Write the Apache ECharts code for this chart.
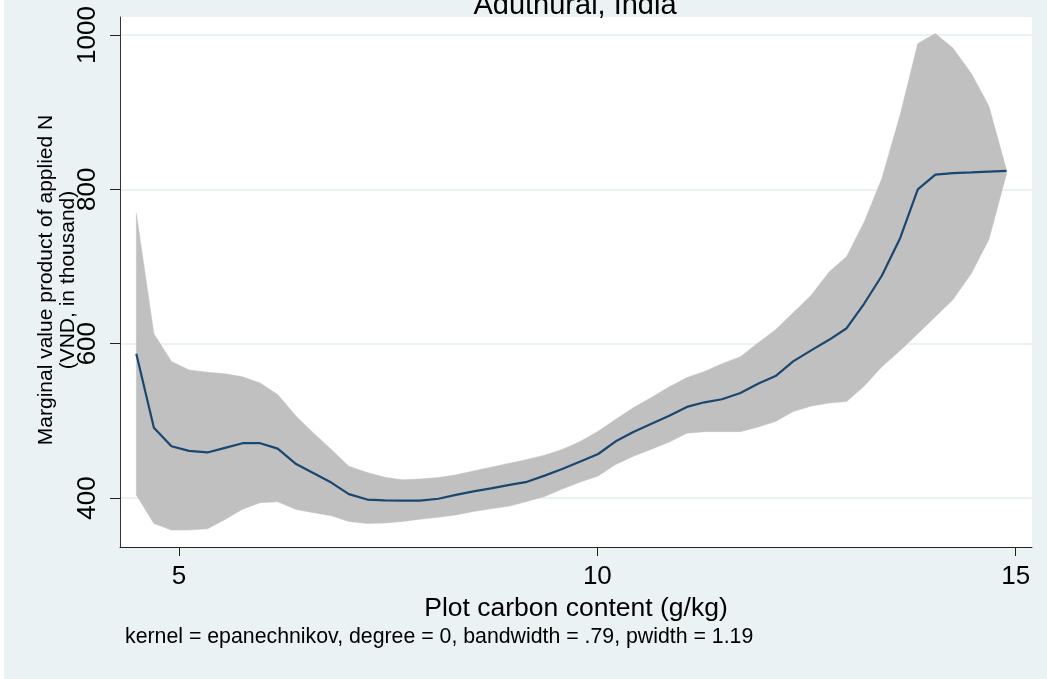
<!DOCTYPE html>
<html>
<head>
<meta charset="utf-8">
<script src="https://cdn.jsdelivr.net/npm/echarts@6/dist/echarts.min.js"></script>
<style>
  html, body { margin: 0; padding: 0; background: #ffffff; }
  #chart { width: 1047px; height: 679px; }
</style>
</head>
<body>
<div id="chart"></div>
<script>
// Local polynomial smooth of marginal value product vs. plot carbon content (50-point grid)
const carbon = [4.49, 4.70, 4.91, 5.12, 5.34, 5.55, 5.76, 5.97, 6.18, 6.40,
                6.61, 6.82, 7.03, 7.25, 7.46, 7.67, 7.88, 8.10, 8.31, 8.52,
                8.73, 8.95, 9.16, 9.37, 9.58, 9.79, 10.01, 10.22, 10.43, 10.64,
                10.86, 11.07, 11.28, 11.49, 11.71, 11.92, 12.13, 12.34, 12.55, 12.77,
                12.98, 13.19, 13.40, 13.62, 13.83, 14.04, 14.25, 14.47, 14.68, 14.89];

const mvpFit = [587, 491, 467, 461, 459, 465, 471, 471, 464, 444,
                432, 420, 405, 398, 397, 396.5, 396.5, 399, 404, 408.5,
                412.5, 417, 421, 429, 437.5, 447, 457, 473.5, 485.5, 496,
                506.5, 518, 524, 528, 536, 548, 558, 577, 591, 605,
                620, 652, 688, 737, 800, 819, 821, 822, 823, 824];

const ciLower = [404, 367, 358.5, 358.5, 360, 372, 385.5, 394, 395, 385,
                 381, 377, 369.5, 367, 367.5, 369.5, 372.5, 375, 378, 382.5,
                 386, 389.5, 395.5, 402, 411.5, 420.5, 428.5, 443.5, 454, 463,
                 472.5, 484, 486, 486, 486, 492, 499, 512, 519, 523,
                 525, 545, 570, 591, 613, 635, 657, 691, 735, 820];

const ciUpper = [769, 613, 577, 566, 563, 561, 557, 549, 534, 506,
                 484, 463, 441, 433, 427, 423.5, 424.5, 426.5, 430, 435,
                 440, 445, 450, 455.5, 463, 473, 486.5, 502, 517, 530,
                 544, 556, 564, 574, 583, 601, 618, 640, 662, 693,
                 713, 758, 814, 897, 989, 1002, 983, 950, 908, 825];

const xTicks = [5, 10, 15];
const yTicks = [400, 600, 800, 1000];

const titleText = 'Aduthurai, India';
const xTitle = 'Plot carbon content (g/kg)';
const yTitle = 'Marginal value product of applied N\n(VND, in thousand)';
const noteText = 'kernel = epanechnikov, degree = 0, bandwidth = .79, pwidth = 1.19';

const FONT = '"Liberation Sans", Arial, Helvetica, sans-serif';
const NAVY = '#1A476F';
const BAND = '#C0C0C0';
const BG = '#EAF2F3';

const bandData = carbon.map((x, i) => [x, ciLower[i], ciUpper[i]]);
const fitData = carbon.map((x, i) => [x, mvpFit[i]]);

const chart = echarts.init(document.getElementById('chart'), null, { renderer: 'canvas' });

// Confidence band drawn as a single polygon: upper edge forward, lower edge back
function renderBand(params, api) {
  if (params.dataIndex !== 0) return null;
  const pts = [];
  for (let i = 0; i < carbon.length; i++) pts.push(api.coord([carbon[i], ciUpper[i]]));
  for (let i = carbon.length - 1; i >= 0; i--) pts.push(api.coord([carbon[i], ciLower[i]]));
  return {
    type: 'polygon',
    shape: { points: pts },
    style: { fill: BAND, stroke: BAND, lineWidth: 0.5 }
  };
}

const option = {
  backgroundColor: BG,
  animation: false,
  grid: {
    left: 120, top: 17, width: 912, height: 530,
    show: true, backgroundColor: '#ffffff', borderWidth: 0
  },
  xAxis: {
    type: 'value',
    min: 4.295, max: 15.195,
    axisLine: { show: true, onZero: false, lineStyle: { color: '#222', width: 1 } },
    axisTick: { show: true, length: 9, customValues: xTicks, lineStyle: { color: '#222' } },
    axisLabel: { customValues: xTicks, fontSize: 26, color: '#000', margin: 17, fontFamily: FONT,
                 formatter: v => String(v) },
    splitLine: { show: false },
    name: xTitle,
    nameLocation: 'middle',
    nameGap: 43,
    nameTextStyle: { fontSize: 26.5, color: '#000', fontFamily: FONT }
  },
  yAxis: {
    type: 'value',
    min: 336.5, max: 1023.3,
    axisLine: { show: true, onZero: false, lineStyle: { color: '#333', width: 1 } },
    axisTick: { show: true, length: 10, customValues: yTicks, lineStyle: { color: '#222' } },
    axisLabel: { customValues: yTicks, rotate: 90, fontSize: 26, color: '#000', margin: 19, fontFamily: FONT,
                 formatter: v => String(v) },
    splitLine: { show: true, lineStyle: { color: BG, width: 2 } }
  },
  series: [
    {
      type: 'custom',
      renderItem: renderBand,
      data: bandData,
      encode: { x: 0, y: [1, 2] },
      silent: true,
      z: 1
    },
    {
      type: 'line',
      data: fitData,
      showSymbol: false,
      symbol: 'none',
      lineStyle: { color: NAVY, width: 2.2 },
      itemStyle: { color: NAVY },
      silent: true,
      z: 2
    }
  ],
  graphic: [
    { type: 'rect', shape: { x: 0, y: 0, width: 4, height: 679 }, style: { fill: '#ffffff' } },
    {
      type: 'text', x: 575, y: 6,
      style: { text: titleText, fontSize: 29, fontFamily: FONT, fill: '#000',
               align: 'center', verticalAlign: 'middle', textAlign: 'center', textVerticalAlign: 'middle' }
    },
    {
      type: 'text', x: 57, y: 280, rotation: Math.PI / 2,
      style: { text: yTitle, fontSize: 21, lineHeight: 22, fontFamily: FONT, fill: '#000',
               align: 'center', verticalAlign: 'middle', textAlign: 'center', textVerticalAlign: 'middle' }
    },
    {
      type: 'text', x: 125, y: 637,
      style: { text: noteText, fontSize: 21.3, fontFamily: FONT, fill: '#000',
               align: 'left', verticalAlign: 'middle', textAlign: 'left', textVerticalAlign: 'middle' }
    }
  ]
};

chart.setOption(option);
</script>
</body>
</html>
